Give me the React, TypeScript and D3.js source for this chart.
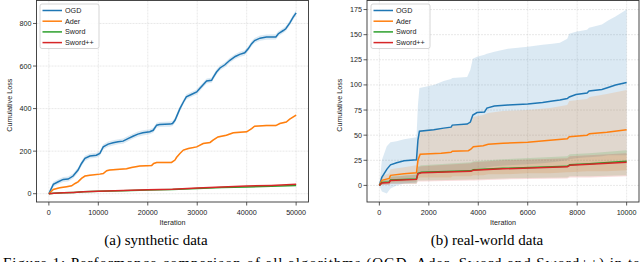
import * as d3 from "d3";

// synthetic data: [iteration, cumulative loss]
const synthOgd = [
  [0, 0], [900, 44], [1900, 56], [2900, 67], [3900, 69], [4900, 83], [5900, 111], [6600, 142],
  [7300, 166], [8300, 177], [9600, 181], [10300, 189], [11000, 220], [12000, 233], [13000, 239],
  [14000, 244], [15000, 247], [16000, 259], [17000, 270], [18000, 280], [19000, 286], [20400, 291],
  [21100, 298], [21800, 322], [22400, 325], [24500, 327], [25000, 330], [25500, 345], [25800, 361],
  [26500, 400], [27200, 431], [27800, 455], [28800, 466], [29900, 478], [30500, 494], [31200, 512],
  [31900, 530], [32900, 533], [33200, 545], [33900, 572], [34600, 591], [35600, 606], [36600, 627],
  [37700, 645], [38600, 655], [39600, 662], [40300, 681], [41000, 705], [41600, 720], [42700, 731],
  [44000, 736], [45900, 737], [46400, 752], [47400, 767], [47900, 775], [48700, 802], [49400, 830],
  [50000, 850],
];
const synthAder = [
  [0, 0], [900, 20], [2200, 28], [3600, 33], [4600, 37], [5300, 48], [5900, 56], [6600, 72],
  [7300, 83], [8300, 87], [10300, 92], [11000, 95], [11700, 108], [12300, 111], [13700, 114],
  [15700, 117], [16700, 123], [18400, 130], [20800, 133], [21200, 142], [21800, 147], [24800, 147],
  [25500, 158], [25800, 170], [26500, 189], [27200, 205], [28200, 212], [29900, 220], [31200, 236],
  [32600, 241], [33200, 252], [34200, 267], [35900, 275], [37300, 286], [40000, 291], [41000, 306],
  [41600, 317], [44000, 320], [45900, 320], [46700, 330], [48000, 337], [48700, 350], [50000, 369],
];
const synthSword = [
  [0, 0], [1000, 2], [3000, 4], [5000, 6], [7000, 9], [10000, 11], [15000, 14], [20000, 17],
  [25000, 20], [30000, 25], [35000, 29], [40000, 32], [45000, 35], [50000, 38],
];
const synthSwordPP = [
  [0, 0], [1000, 2], [3000, 4], [5000, 6], [7000, 9], [10000, 12], [15000, 15], [20000, 18],
  [25000, 21], [30000, 27], [35000, 32], [40000, 36], [45000, 39], [50000, 44],
];
// half width of the shaded band in the synthetic panel
const synthSpread = [12, 4, 1.5, 1.5];

// real-world data: [iteration, mean, lower, upper]
const realOgd = [
  [0, 0, 0, 0], [100, 8, -6, 25], [300, 16, -8, 39], [450, 20.5, -3, 43], [700, 22.5, 0, 44],
  [1000, 24.5, 2, 46], [1500, 25.5, 3, 48], [1560, 45, 10, 80], [1620, 54, 12, 97],
  [2200, 55.5, 12, 100], [2600, 57, 13, 104], [2900, 58, 13, 106], [2950, 60, 14, 107],
  [3550, 61, 14, 108], [3680, 63, 15, 115], [3780, 70, 16, 126], [3950, 72.5, 17, 128],
  [4250, 73, 17, 130], [4350, 77, 18, 131], [4650, 79, 19, 133], [5200, 80, 20, 136],
  [6000, 81, 21, 138], [6600, 82.5, 22, 140], [7000, 84, 23, 141], [7300, 85, 24, 142],
  [7600, 86.5, 25, 146], [7680, 88, 26, 151], [7950, 90.5, 27, 153], [8400, 92, 28, 155],
  [8480, 94, 28, 157], [9000, 95.5, 29, 160], [9250, 97.5, 30, 164], [9550, 100, 30, 168],
  [10000, 102.5, 30, 175],
];
const realAder = [
  [0, 0, 0, 0], [100, 5, 1, 9], [400, 7, 2, 12], [450, 10, 3, 16], [1000, 11.5, 4, 18],
  [1500, 12.5, 4, 20], [1560, 25, 7, 45], [1650, 31, 8, 55], [2500, 32, 8, 57], [2900, 33, 8, 58],
  [2950, 34, 9, 60], [3600, 34.5, 9, 61], [3700, 36, 9, 63], [3800, 38.5, 10, 68],
  [4200, 39.5, 10, 70], [4400, 41, 11, 72], [5000, 42, 11, 74], [6000, 43, 12, 75],
  [6900, 45, 12, 77], [7600, 46.5, 13, 80], [7680, 48.5, 13, 84], [8400, 50, 14, 86],
  [8500, 51.5, 14, 88], [9200, 53, 14, 91], [10000, 55.5, 15, 95],
];
const realSword = [
  [0, 0, 0, 0], [100, 3, 1, 5], [400, 3.5, 1, 6], [450, 5.5, 2, 9], [1500, 6.5, 2, 11],
  [1560, 12, 5, 19], [1700, 13, 5, 20], [3700, 14.5, 6, 23], [3800, 15.5, 6, 24],
  [5000, 17, 7, 26], [7600, 19, 8, 29], [7700, 20.5, 9, 31], [8500, 21.5, 9, 32],
  [10000, 24, 10, 35],
];
const realSwordPP = [
  [0, 0, 0, 0], [100, 2.5, 0.5, 4.5], [400, 3, 0.5, 5.5], [450, 5, 1.5, 8.5], [1500, 6, 1.5, 10.5],
  [1560, 11.5, 4, 18], [1700, 12.5, 4, 19], [3700, 14, 5, 22], [3800, 15, 5, 23],
  [5000, 16.5, 6, 25], [7600, 18.5, 7, 27], [7700, 20, 8, 29], [8500, 21, 8, 30],
  [10000, 23, 9, 32],
];

const algoNames = ["OGD", "Ader", "Sword", "Sword++"];
const colors = ["#1f77b4", "#ff7f0e", "#2ca02c", "#d62728"];

const synthXTicks = [0, 10000, 20000, 30000, 40000, 50000];
const synthYTicks = [0, 200, 400, 600, 800];
const realXTicks = [0, 2000, 4000, 6000, 8000, 10000];
const realYTicks = [0, 25, 50, 75, 100, 125, 150, 175];

const captions = ["(a) synthetic data", "(b) real-world data"];
const figureText =
  "Figure 1: Performance comparison of all algorithms (OGD, Ader, Sword and Sword++) in terms";

const sans = "'Liberation Sans', Arial, sans-serif";
const serif = "'Liberation Serif', 'Times New Roman', serif";
const fs = 7.2;

type Band = { pts: number[][] };

function Panel({ x0, x1, xDomain, yDomain, xTicks, yTicks, series, legendX }: any) {
  const top = 0.5;
  const bottom = 202;
  const x = d3.scaleLinear().domain(xDomain).range([x0, x1]);
  const y = d3.scaleLinear().domain(yDomain).range([bottom, top]);
  const line = d3.line<number[]>().x((d) => x(d[0])).y((d) => y(d[1]));
  const area = d3
    .area<number[]>()
    .x((d) => x(d[0]))
    .y0((d) => y(d[2]))
    .y1((d) => y(d[3]));

  return (
    <g>
      {/* grid */}
      {xTicks.map((t: number) => (
        <line key={"gx" + t} x1={x(t)} x2={x(t)} y1={top} y2={bottom} stroke="#b0b0b0" strokeOpacity={0.35} strokeWidth={0.8} strokeDasharray="2,1" />
      ))}
      {yTicks.map((t: number) => (
        <line key={"gy" + t} x1={x0} x2={x1} y1={y(t)} y2={y(t)} stroke="#b0b0b0" strokeOpacity={0.35} strokeWidth={0.8} strokeDasharray="2,1" />
      ))}
      {/* bands */}
      {series.map((s: Band, i: number) => (
        <path key={"a" + i} d={area(s.pts) || ""} fill={colors[i]} fillOpacity={0.16} />
      ))}
      {/* lines */}
      {series.map((s: Band, i: number) => (
        <path key={"l" + i} d={line(s.pts) || ""} fill="none" stroke={colors[i]} strokeWidth={1.5} />
      ))}
      {/* frame */}
      <rect x={x0} y={top} width={x1 - x0} height={bottom - top} fill="none" stroke="#333" strokeWidth={0.9} />
      {/* x ticks */}
      {xTicks.map((t: number) => (
        <g key={"xt" + t}>
          <line x1={x(t)} x2={x(t)} y1={bottom} y2={bottom + 3.5} stroke="#333" strokeWidth={0.8} />
          <text x={x(t)} y={214.5} textAnchor="middle" fontSize={fs} fontFamily={sans} fill="#222">
            {t}
          </text>
        </g>
      ))}
      {yTicks.map((t: number) => (
        <g key={"yt" + t}>
          <line x1={x0 - 3.5} x2={x0} y1={y(t)} y2={y(t)} stroke="#333" strokeWidth={0.8} />
          <text x={x0 - 5} y={y(t)} dy="0.35em" textAnchor="end" fontSize={fs} fontFamily={sans} fill="#222">
            {t}
          </text>
        </g>
      ))}
      <text x={(x0 + x1) / 2} y={224.5} textAnchor="middle" fontSize={fs} fontFamily={sans} fill="#222">
        Iteration
      </text>
      <text
        transform={`translate(${x0 - (x0 > 300 ? 25.5 : 25)},${(top + bottom) / 2 + 4}) rotate(-90)`}
        textAnchor="middle"
        fontSize={fs}
        fontFamily={sans}
        fill="#222"
      >
        Cumulative Loss
      </text>
      {/* legend */}
      <rect x={legendX} y={4} width={59} height={44.5} rx={2} fill="#fff" fillOpacity={0.85} stroke="#ccc" strokeWidth={0.8} />
      {algoNames.map((n, i) => (
        <g key={n}>
          <line x1={legendX + 2.5} x2={legendX + 22} y1={10.5 + i * 10.7} y2={10.5 + i * 10.7} stroke={colors[i]} strokeWidth={1.5} />
          <text x={legendX + 25} y={10.5 + i * 10.7} dy="0.35em" fontSize={fs} fontFamily={sans} fill="#222">
            {n}
          </text>
        </g>
      ))}
    </g>
  );
}

export default function App() {
  const synthSeries = [synthOgd, synthAder, synthSword, synthSwordPP].map((s, i) => ({
    pts: s.map((d) => [d[0], d[1], d[1] - synthSpread[i], d[1] + synthSpread[i]]),
  }));
  const realSeries = [realOgd, realAder, realSword, realSwordPP].map((s) => ({ pts: s }));

  return (
    <svg width={640} height={262} style={{ position: "absolute", left: 0, top: 0, background: "#fff" }}>
      <rect width={640} height={262} fill="#fff" />
      <Panel
        x0={36.5}
        x1={308.5}
        xDomain={[-2500, 52500]}
        yDomain={[-39, 908]}
        xTicks={synthXTicks}
        yTicks={synthYTicks}
        series={synthSeries}
        legendX={40}
      />
      <Panel
        x0={367}
        x1={639}
        xDomain={[-500, 10500]}
        yDomain={[-16.5, 184]}
        xTicks={realXTicks}
        yTicks={realYTicks}
        series={realSeries}
        legendX={371}
      />
      <text x={156} y={245} textAnchor="middle" fontSize={15} fontFamily={serif} fill="#000">
        {captions[0]}
      </text>
      <text x={487} y={245} textAnchor="middle" fontSize={15} fontFamily={serif} fill="#000">
        {captions[1]}
      </text>
      <text x={3} y={268} fontSize={15} fontFamily={serif} fill="#000" textLength={662} lengthAdjust="spacing">
        {figureText}
      </text>
    </svg>
  );
}
